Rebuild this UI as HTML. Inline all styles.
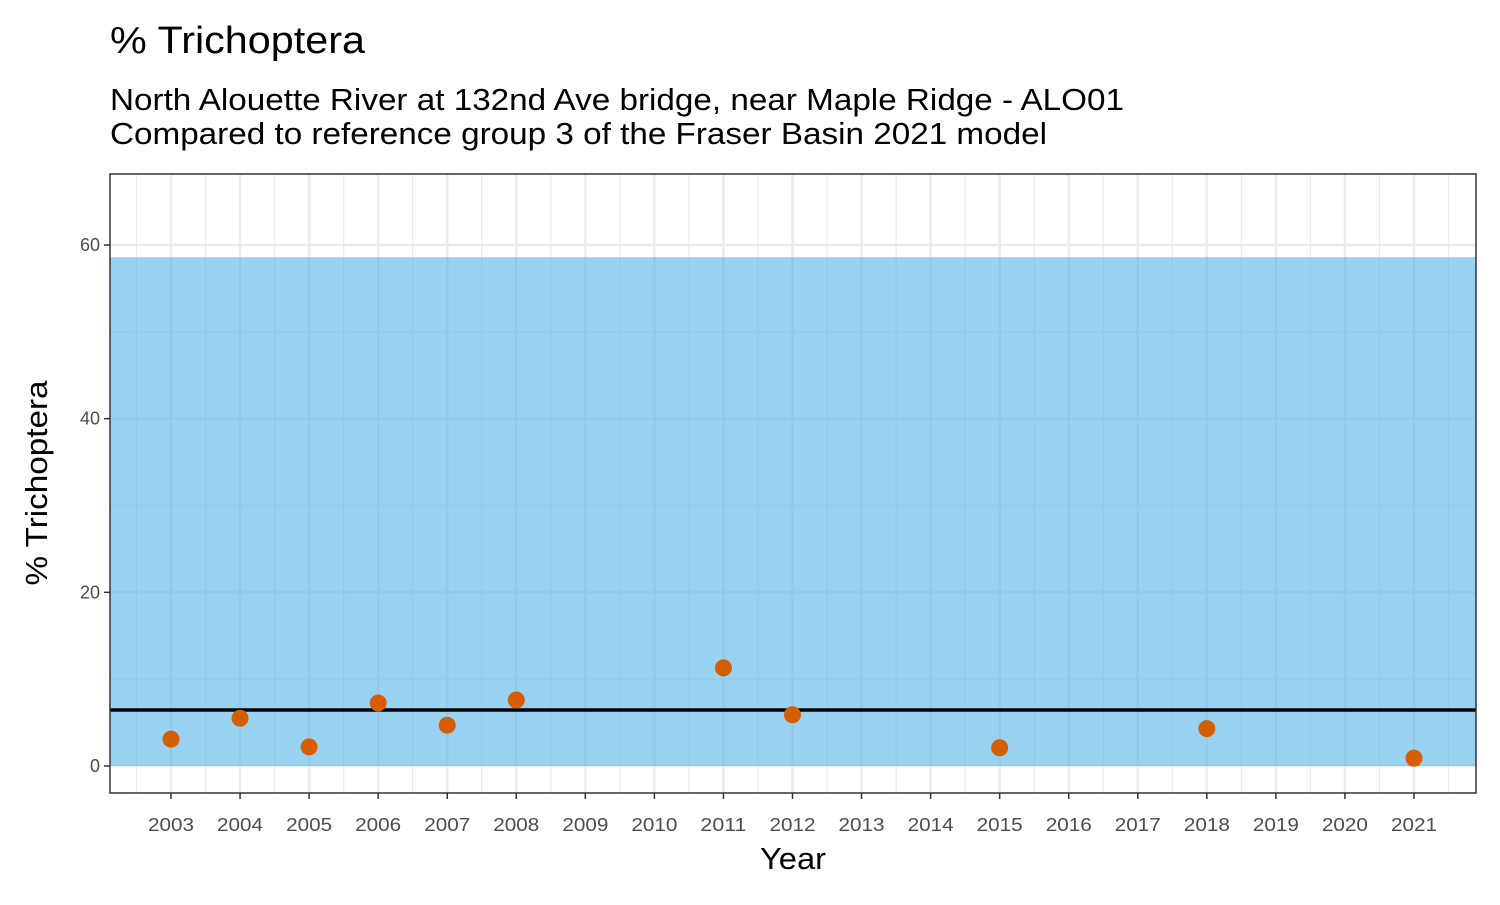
<!DOCTYPE html>
<html><head><meta charset="utf-8"><style>
body{margin:0;background:#fff;font-family:"Liberation Sans",Arial,sans-serif}
svg text{font-family:"Liberation Sans",Arial,sans-serif}
</style></head><body>
<svg id="chart" width="1500" height="900">
<text x="110" y="53" font-size="38" textLength="255" lengthAdjust="spacingAndGlyphs" fill="#000">% Trichoptera</text>
<text x="110" y="110" font-size="31" textLength="1014" lengthAdjust="spacingAndGlyphs" fill="#000">North Alouette River at 132nd Ave bridge, near Maple Ridge - ALO01</text>
<text x="110" y="144" font-size="31" textLength="937" lengthAdjust="spacingAndGlyphs" fill="#000">Compared to reference group 3 of the Fraser Basin 2021 model</text>
<g id="grid"></g>
<g id="band"></g>
<g id="marks"></g>
<rect x="110" y="174" width="1366" height="619" fill="none" stroke="#333" stroke-width="1.5"/>
<g id="axes"></g>
<text x="793" y="869" font-size="31" textLength="66" lengthAdjust="spacingAndGlyphs" text-anchor="middle">Year</text>
<text transform="translate(47,483) rotate(-90)" font-size="31" textLength="205" lengthAdjust="spacingAndGlyphs" text-anchor="middle">% Trichoptera</text>
</svg>
<script>
const years=[2003,2004,2005,2006,2007,2008,2011,2012,2015,2018,2021];
const values=[3.1,5.5,2.2,7.25,4.7,7.6,11.3,5.9,2.1,4.3,0.9];
const xTicks=[2003,2004,2005,2006,2007,2008,2009,2010,2011,2012,2013,2014,2015,2016,2017,2018,2019,2020,2021];
const yTicks=[0,20,40,60];
const bandLow=0, bandHigh=58.6, refLine=6.45;
const NS="http://www.w3.org/2000/svg";
const x=v=>171+(v-2003)*69.056;
const y=v=>766-v*8.6833;
function mk(p,t,a){const e=document.createElementNS(NS,t);for(const k in a)e.setAttribute(k,a[k]);document.getElementById(p).appendChild(e);return e;}
for(let v=2002.5;v<=2021.5;v++){const e=mk('grid','line',{x1:x(v),x2:x(v),y1:174,y2:793,stroke:'#ebebeb','stroke-width':1.2});

}
for(let v=-10;v<=70;v+=20){if(y(v)<174||y(v)>793)continue;const e=mk('grid','line',{x1:110,x2:1476,y1:y(v),y2:y(v),stroke:'#ebebeb','stroke-width':1.2});

}
xTicks.forEach(v=>{const e=mk('grid','line',{x1:x(v),x2:x(v),y1:174,y2:793,stroke:'#ebebeb','stroke-width':2.5});


const t=mk('axes','line',{x1:x(v),x2:x(v),y1:793,y2:799,stroke:'#333','stroke-width':1.5});


const l=mk('axes','text',{x:x(v),y:831,'font-size':18,textLength:46,lengthAdjust:'spacingAndGlyphs',fill:'#4d4d4d','text-anchor':'middle'});l.textContent=v;

});
yTicks.forEach(v=>{const e=mk('grid','line',{x1:110,x2:1476,y1:y(v),y2:y(v),stroke:'#ebebeb','stroke-width':2.5});


const t=mk('axes','line',{x1:104,x2:110,y1:y(v),y2:y(v),stroke:'#333','stroke-width':1.5});


const l=mk('axes','text',{x:100,y:y(v)+6,'font-size':18,fill:'#4d4d4d','text-anchor':'end'});l.textContent=v;

});
const b=mk('band','rect',{x:110,y:y(bandHigh),width:1366,height:y(bandLow)-y(bandHigh),fill:'#56B4E9','fill-opacity':0.6});


const rl=mk('marks','line',{x1:110,x2:1476,y1:y(refLine),y2:y(refLine),stroke:'#000','stroke-width':3.5});


years.forEach((yr,i)=>{const c=mk('marks','circle',{cx:x(yr),cy:y(values[i]),r:8.5,fill:'#D55E00'});

});
</script>
</body></html>
